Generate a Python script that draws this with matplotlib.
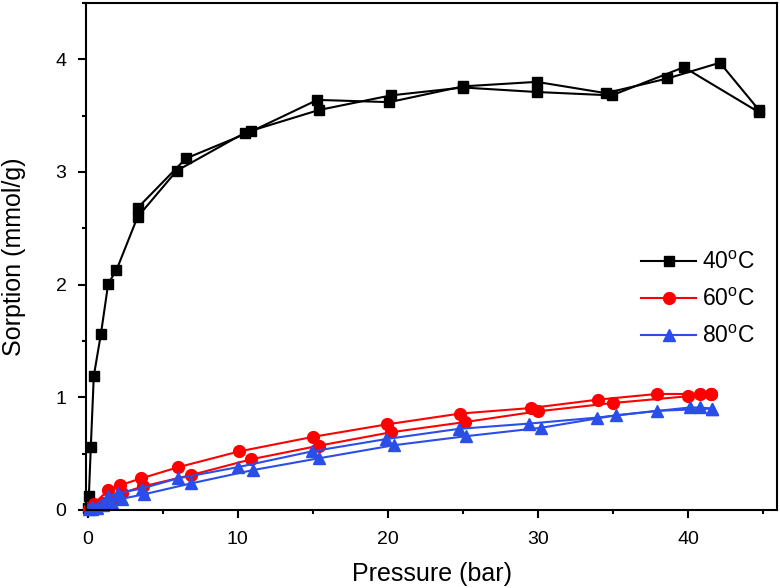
import matplotlib
matplotlib.use('Agg')
from matplotlib import pyplot as plt
from matplotlib.ticker import MultipleLocator

# 40 oC: adsorption + desorption branches
p40_ads = [0.05, 0.09, 0.22, 0.42, 0.89, 1.38, 1.93, 3.33, 5.93, 10.5, 15.4, 20.2, 25.0, 29.9, 34.9, 39.7, 44.7]
s40_ads = [0.02, 0.12, 0.56, 1.19, 1.56, 2.01, 2.13, 2.60, 3.01, 3.35, 3.55, 3.68, 3.75, 3.71, 3.68, 3.93, 3.53]
p40_des = [44.7, 42.1, 38.6, 34.5, 29.9, 25.0, 20.1, 15.3, 10.9, 6.55, 3.33]
s40_des = [3.55, 3.97, 3.83, 3.70, 3.80, 3.76, 3.62, 3.64, 3.36, 3.12, 2.68]

# 60 oC
p60_ads = [0.1, 0.3, 0.6, 1.0, 1.6, 2.3, 3.7, 6.89, 10.89, 15.38, 20.2, 25.1, 30.0, 35.0, 40.0, 40.75, 41.5]
s60_ads = [0.01, 0.02, 0.04, 0.06, 0.09, 0.15, 0.21, 0.31, 0.45, 0.57, 0.69, 0.78, 0.876, 0.95, 1.01, 1.03, 1.03]
p60_des = [41.5, 37.9, 34.0, 29.5, 24.8, 19.93, 15.04, 10.09, 6.04, 3.56, 2.16, 1.38, 0.4]
s60_des = [1.03, 1.03, 0.98, 0.905, 0.856, 0.76, 0.65, 0.52, 0.38, 0.28, 0.22, 0.177, 0.05]

# 80 oC
p80_ads = [0.1, 0.3, 0.6, 1.0, 1.6, 2.3, 3.78, 6.89, 11.0, 15.44, 20.4, 25.2, 30.2, 35.15, 40.1, 40.8, 41.6]
s80_ads = [0.005, 0.01, 0.02, 0.04, 0.06, 0.10, 0.14, 0.236, 0.354, 0.46, 0.575, 0.655, 0.73, 0.84, 0.91, 0.91, 0.90]
p80_des = [41.6, 37.9, 33.9, 29.4, 24.7, 19.9, 14.93, 10.0, 6.0, 3.6, 2.04, 1.38, 0.3]
s80_des = [0.90, 0.88, 0.82, 0.767, 0.72, 0.63, 0.52, 0.38, 0.28, 0.19, 0.15, 0.12, 0.03]

labels = ['40$^\\mathrm{o}$C', '60$^\\mathrm{o}$C', '80$^\\mathrm{o}$C']

plt.rcParams['font.family'] = ['Liberation Sans', 'DejaVu Sans']
plt.rcParams['mathtext.fontset'] = 'custom'
plt.rcParams['mathtext.rm'] = 'Liberation Sans'

fig = plt.figure(figsize=(7.8, 5.88), dpi=100)
ax = fig.add_axes([86 / 780, 1 - 510 / 588, 691 / 780, 507 / 588])

series = [
    (p40_ads, s40_ads, p40_des, s40_des, 'black', 's', 7.5),
    (p60_ads, s60_ads, p60_des, s60_des, '#ff0000', 'o', 8.5),
    (p80_ads, s80_ads, p80_des, s80_des, '#2b4de8', '^', 9),
]
for (pa, sa, pd, sd, col, mk, ms), lab in zip(series, labels):
    ax.plot(pa, sa, color=col, marker=mk, markersize=ms, lw=1.5, label=lab, clip_on=False)
    ax.plot(pd, sd, color=col, marker=mk, markersize=ms, lw=1.5, clip_on=False)

ax.set_xlim(-0.1, 45.9)
ax.set_ylim(0, 4.5)
ax.xaxis.set_major_locator(MultipleLocator(10))
ax.xaxis.set_minor_locator(MultipleLocator(5))
ax.yaxis.set_major_locator(MultipleLocator(1))
ax.yaxis.set_minor_locator(MultipleLocator(0.5))
ax.tick_params(which='major', direction='out', length=5.5, width=1.5, labelsize=14)
ax.tick_params(axis='x', which='major', pad=9.5)
ax.tick_params(axis='y', which='major', pad=8.5)
ax.tick_params(which='minor', direction='out', length=3, width=1.5)
for sp in ax.spines.values():
    sp.set_linewidth(1.5)

ax.set_xlabel('Pressure (bar)', fontsize=18, labelpad=10)
ax.set_ylabel('Sorption (mmol/g)', fontsize=18, labelpad=21)

ax.legend(loc='upper left', bbox_to_anchor=(641 / 780, 1 - 251 / 588), bbox_transform=fig.transFigure,
          frameon=False, fontsize=16.5, handlelength=2.4, handletextpad=0.25, labelspacing=0.62,
          borderpad=0, borderaxespad=0)

fig.savefig('out.png', dpi=100)
